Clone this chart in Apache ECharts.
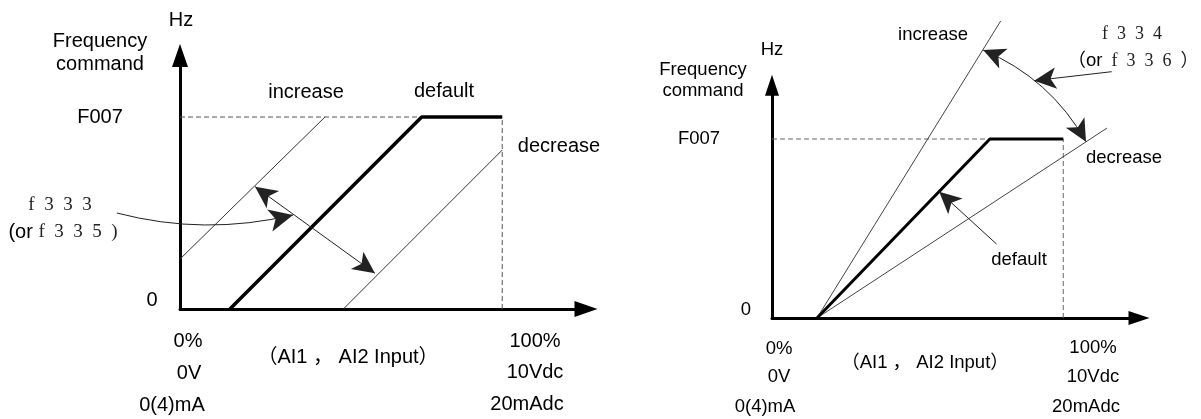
<!DOCTYPE html>
<html><head><meta charset="utf-8">
<script src="https://cdn.jsdelivr.net/npm/echarts@6/dist/echarts.min.js"></script>
<style>html,body{margin:0;padding:0;background:#fff}#c{width:1201px;height:419px}</style>
</head><body><div id="c"></div>
<script>
// ---------- DATA (x: % of analog input, y: % of F007) ----------
// Left panel: bias (f333 / f335)
const leftDefault  = [[15.5, 0], [75, 100], [100, 100]];
const leftIncrease = [[0, 26], [45, 100]];
const leftDecrease = [[50.7, 0], [100, 82.8]];
const leftRefH     = [[0, 100], [100, 100]];
const leftRefV     = [[100, 0], [100, 100]];
const leftBiasArrow = [[23.3, 63.7], [60.5, 18.6]];
const leftPointer   = [[-19.6, 50.0], [35.1, 49.0]];
// Right panel: gain (f334 / f336)
const rightDefault  = [[15.45, 0], [74.8, 100], [100, 100]];
const rightIncrease = [[15.45, 0], [78.5, 165.9]];
const rightDecrease = [[15.45, 0], [115.0, 106.1]];
const rightRefH     = [[0, 100], [100, 100]];
const rightRefV     = [[100, 0], [100, 100]];
const rightGainArc  = [[72.5, 149.7], [107.8, 98.5]];
const rightPointer  = [[116.6, 137.6], [90.0, 132.6]];
const rightDefaultPointer = [[77.1, 41.3], [57.4, 70.6]];
// Text
const yTickLabels = ['0', 'F007'];
const xTickLabelsStart = ['0%', '0V', '0(4)mA'];
const xTickLabelsEnd = ['100%', '10Vdc', '20mAdc'];
const yTitle = ['Hz', 'Frequency', 'command'];
const xTitle = '（AI1 ， AI2 Input）';
const curveNames = ['increase', 'default', 'decrease'];
const leftParam = ['f\u20023\u20023\u20023', '(or ', 'f\u20023\u20023\u20025\u2002)'];
const rightParam = ['f\u20023\u20023\u20024', '（or\u2002', 'f\u20023\u20023\u20026\u2002）'];

// ---------- CHART ----------
const SANS = '"Liberation Sans", Arial, "Noto Sans CJK SC", sans-serif';
const SERIF = '"Liberation Serif", "Times New Roman", "Noto Sans CJK SC", serif';
const chart = echarts.init(document.getElementById('c'));

function axisX(gi, max, sym) {
  return {type: 'value', gridIndex: gi, min: 0, max: max,
    axisLine: {show: true, onZero: false, symbol: ['none', 'triangle'], symbolSize: sym, lineStyle: {color: '#000', width: 3}},
    axisTick: {show: false}, axisLabel: {show: false}, splitLine: {show: false}};
}
function lineSer(i, data, color, width, type, z) {
  return {type: 'line', xAxisIndex: i, yAxisIndex: i, data: data, symbol: 'none', showSymbol: false,
    lineStyle: {color: color, width: width, type: type}, clip: false, silent: true, z: z, animation: false};
}
function arrowSer(i, coords, sym, curveness, size) {
  return {type: 'lines', coordinateSystem: 'cartesian2d', xAxisIndex: i, yAxisIndex: i,
    data: [{coords: coords, lineStyle: {curveness: curveness}}],
    symbol: sym, symbolSize: [size, size],
    lineStyle: {color: '#222', width: 1, opacity: 1}, clip: false, silent: true, z: 5, animation: false};
}
function t(x, y, text, size, extra) {
  return Object.assign({type: 'text', x: x, y: y, silent: true, style: Object.assign({
    text: text, fontSize: size, fontFamily: SANS, fill: '#000', align: 'center', verticalAlign: 'middle'}, extra || {})});
}
const richL = {s: {fontFamily: SERIF, fontSize: 19, fill: '#222'}, a: {fontFamily: SANS, fontSize: 20, fill: '#000'}};
const richR = {s: {fontFamily: SERIF, fontSize: 18, fill: '#222'}, a: {fontFamily: SANS, fontSize: 18.5, fill: '#000'}};

const L = 20, R = 18.5;
const graphic = [
  // left panel
  t(181, 20, yTitle[0], L), t(100, 41, yTitle[1], L), t(100, 64, yTitle[2], L),
  t(100, 117, yTickLabels[1], L), t(152, 300, yTickLabels[0], L),
  t(306, 92, curveNames[0], L), t(444, 91, curveNames[1], L), t(559, 146, curveNames[2], L),
  t(188, 341, xTickLabelsStart[0], L), t(189, 373, xTickLabelsStart[1], L), t(172, 405, xTickLabelsStart[2], L),
  t(535, 341, xTickLabelsEnd[0], L), t(535, 372, xTickLabelsEnd[1], L), t(527, 404, xTickLabelsEnd[2], L),
  t(348, 357, xTitle, L),
  t(60, 205, '{s|' + leftParam[0] + '}', L, {rich: richL}),
  t(63, 232, '{a|' + leftParam[1] + '}{s|' + leftParam[2] + '}', L, {rich: richL}),
  // right panel
  t(772, 50, yTitle[0], R), t(703, 70, yTitle[1], R), t(703, 91, yTitle[2], R),
  t(699, 139, yTickLabels[1], R), t(746, 310, yTickLabels[0], R),
  t(933, 35, curveNames[0], R), t(1019, 260, curveNames[1], R), t(1124, 158, curveNames[2], R),
  t(779, 349, xTickLabelsStart[0], R), t(779, 377, xTickLabelsStart[1], R), t(765, 407, xTickLabelsStart[2], R),
  t(1093, 348, xTickLabelsEnd[0], R), t(1093, 377, xTickLabelsEnd[1], R), t(1086, 407, xTickLabelsEnd[2], R),
  t(925, 363, xTitle, R),
  t(1132, 34, '{s|' + rightParam[0] + '}', R, {rich: richR}),
  t(1133, 61, '{a|' + rightParam[1] + '}{s|' + rightParam[2] + '}', R, {rich: richR})
];

chart.setOption({
  animation: false,
  backgroundColor: '#fff',
  grid: [
    {left: 180, top: 55.56, width: 406, height: 253.44},
    {left: 772, top: 85.3, width: 367, height: 232.7}
  ],
  xAxis: [axisX(0, 126, [16, 23]), axisX(1, 126, [14, 21])],
  yAxis: [axisX(0, 132, [16, 23]), axisX(1, 130, [14, 21])],
  graphic: graphic,
  series: [
    lineSer(0, leftRefH, '#555', 1, [5, 3], 1),
    lineSer(0, leftRefV, '#555', 1, [5, 3], 1),
    lineSer(0, leftIncrease, '#333', 1, 'solid', 2),
    lineSer(0, leftDecrease, '#333', 1, 'solid', 2),
    lineSer(0, leftDefault, '#000', 3.5, 'solid', 3),
    arrowSer(0, leftBiasArrow, ['arrow', 'arrow'], 0, [16, 22]),
    arrowSer(0, leftPointer, ['none', 'arrow'], -0.125, [17, 24]),
    lineSer(1, rightRefH, '#666', 1, [5, 3], 1),
    lineSer(1, rightRefV, '#666', 1, [5, 3], 1),
    lineSer(1, rightIncrease, '#444', 1, 'solid', 2),
    lineSer(1, rightDecrease, '#444', 1, 'solid', 2),
    lineSer(1, rightDefault, '#000', 3, 'solid', 3),
    arrowSer(1, rightGainArc, ['arrow', 'arrow'], 0.17, [16, 22]),
    arrowSer(1, rightPointer, ['none', 'arrow'], 0, [16, 22]),
    arrowSer(1, rightDefaultPointer, ['none', 'arrow'], 0, [16, 22])
  ]
});
</script></body></html>
